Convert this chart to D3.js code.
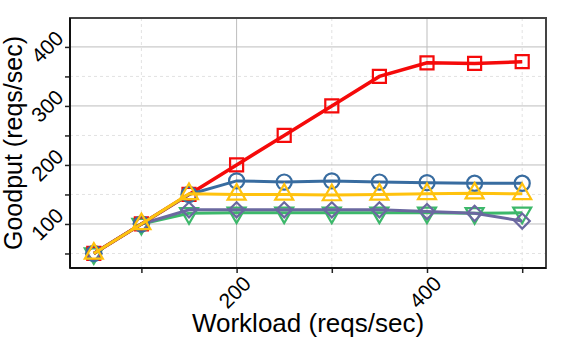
<!DOCTYPE html>
<html><head><meta charset="utf-8">
<script src="https://cdn.jsdelivr.net/npm/d3@7"></script>
<style>body{margin:0;background:#fff}svg{display:block}text{font-family:"Liberation Sans",Arial,sans-serif}</style>
</head><body><svg id="c" width="571" height="338"></svg>
<script>
const xs = [50,100,150,200,250,300,350,400,450,500];
const redS    = [50,100,150,200,250,300,350,373,372,375];
const blueS   = [50,100,150,173,171,173,171,170,169,169];
const yellowS = [50,100,151,150,150,149,150,151,152,151];
const greenS  = [50,100,118,119,119,119,119,119,118,119];
const purpleS = [50,100,124,124,124,124,124,121,118,105];
const xMajor = [200,400], xMinor = [100,300,500];
const yMajor = [100,200,300,400], yMinor = [50,150,250,350];
const xLabel = "Workload (reqs/sec)", yLabel = "Goodput (reqs/sec)";

const series = [
 {v:greenS, c:"#3cb86a", m:"tdown"},
 {v:purpleS, c:"#6b68a0", m:"diamond"},
 {v:redS, c:"#f50a0a", m:"square"},
 {v:blueS, c:"#386ca0", m:"circle"},
 {v:yellowS, c:"#ffc20e", m:"tup"},
];
const L=70,R=546,T=18,B=268;
const x=d3.scaleLinear().domain([25,525]).range([L,R]);
const y=d3.scaleLinear().domain([25.4,449]).range([B,T]);
const svg=d3.select("#c");
// grid
svg.append("g").selectAll("line").data(xMinor).join("line")
 .attr("x1",d=>x(d)).attr("x2",d=>x(d)).attr("y1",T).attr("y2",B)
 .attr("stroke","#e2e2e2").attr("stroke-dasharray","3,3");
svg.append("g").selectAll("line").data(yMinor).join("line")
 .attr("y1",d=>y(d)).attr("y2",d=>y(d)).attr("x1",L).attr("x2",R)
 .attr("stroke","#e2e2e2").attr("stroke-dasharray","3,3");
svg.append("g").selectAll("line").data(xMajor).join("line")
 .attr("x1",d=>x(d)).attr("x2",d=>x(d)).attr("y1",T).attr("y2",B)
 .attr("stroke","#bdbdbd");
svg.append("g").selectAll("line").data(yMajor).join("line")
 .attr("y1",d=>y(d)).attr("y2",d=>y(d)).attr("x1",L).attr("x2",R)
 .attr("stroke","#bdbdbd");
// axes ticks
const xa=svg.append("g").attr("transform",`translate(0,${B})`)
 .call(d3.axisBottom(x).tickValues(xMajor.concat(xMinor)).tickSize(5).tickFormat(""));
const ya=svg.append("g").attr("transform",`translate(${L},0)`)
 .call(d3.axisLeft(y).tickValues(yMajor.concat(yMinor)).tickSize(5).tickFormat(""));
[xa,ya].forEach(a=>{a.select(".domain").remove();a.selectAll("line").attr("stroke","#222").attr("stroke-width",1.5);});
// labels
svg.append("g").selectAll("text").data(xMajor).join("text")
 .attr("transform",d=>`translate(${x(d)-2},292) rotate(-45)`)
 .attr("text-anchor","middle").attr("dominant-baseline","central")
 .attr("font-size",21).text(d=>d);
svg.append("g").selectAll("text").data(yMajor).join("text")
 .attr("transform",d=>`translate(${L-23},${y(d)}) rotate(-45)`)
 .attr("text-anchor","middle").attr("dominant-baseline","central")
 .attr("font-size",21).text(d=>d);
svg.append("text").attr("x",308).attr("y",332).attr("text-anchor","middle").attr("font-size",26).text(xLabel);
svg.append("text").attr("transform",`translate(22,143) rotate(-90)`).attr("text-anchor","middle").attr("font-size",25).text(yLabel);
// series
const line=d3.line().x((d,i)=>x(xs[i])).y(d=>y(d));
const sym={circle:d3.symbolCircle,square:d3.symbolSquare,diamond:d3.symbolSquare,tup:d3.symbolTriangle,tdown:d3.symbolTriangle};
const size={circle:180,square:170,diamond:115,tup:140,tdown:140};
const rot={tdown:180,diamond:45};
series.forEach(s=>{
 svg.append("path").attr("d",line(s.v)).attr("fill","none").attr("stroke",s.c).attr("stroke-width",s.m==="square"?3.5:3);
 svg.append("g").selectAll("path").data(s.v).join("path")
  .attr("transform",(d,i)=>`translate(${x(xs[i])},${y(d)}) rotate(${rot[s.m]||0})`)
  .attr("d",d3.symbol(sym[s.m],size[s.m])).attr("fill","none").attr("stroke",s.c).attr("stroke-width",2.2);
});
// frame
svg.append("rect").attr("x",L).attr("y",T).attr("width",R-L).attr("height",B-T).attr("fill","none").attr("stroke","#444").attr("stroke-width",2);
svg.append("line").attr("x1",L).attr("x2",L).attr("y1",T).attr("y2",B).attr("stroke","#111").attr("stroke-width",2);
svg.append("line").attr("x1",L).attr("x2",R).attr("y1",B).attr("y2",B).attr("stroke","#111").attr("stroke-width",2);
</script></body></html>
